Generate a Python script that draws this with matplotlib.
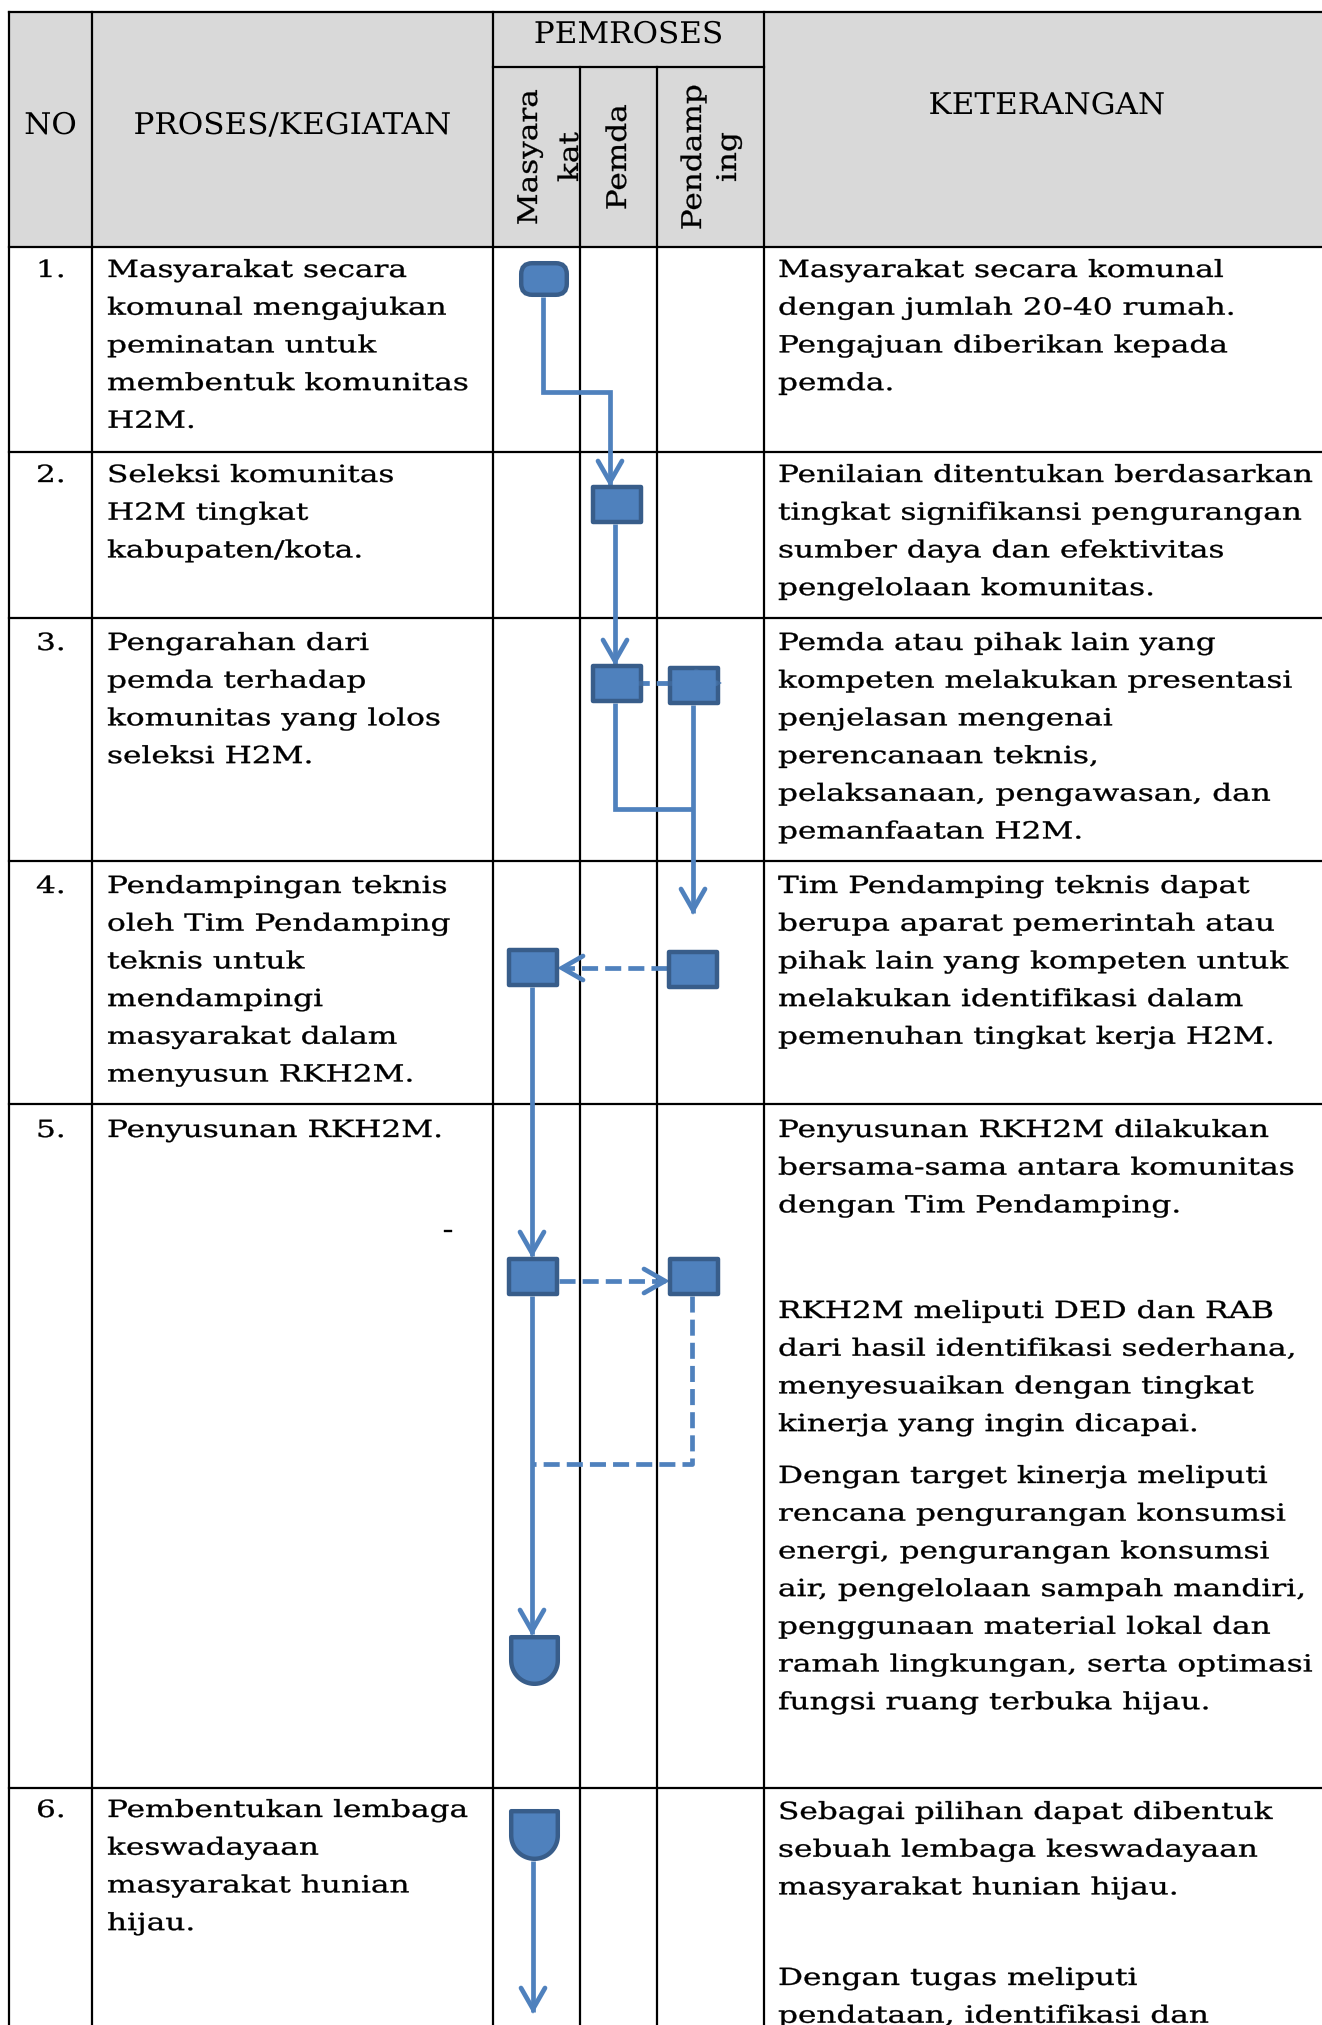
import numpy as np
import matplotlib.pyplot as plt
from matplotlib.patches import Rectangle, FancyBboxPatch, Polygon
from matplotlib.patheffects import AbstractPathEffect
from matplotlib.transforms import Affine2D

# ---- isi tabel ----
judul_kolom = ['NO', 'PROSES/KEGIATAN', 'PEMROSES', 'KETERANGAN']
pelaku = [['Masyara', 'kat'], ['Pemda'], ['Pendamp', 'ing']]
nomor = ['1.', '2.', '3.', '4.', '5.', '6.']
proses = [
    ['Masyarakat secara', 'komunal mengajukan', 'peminatan untuk',
     'membentuk komunitas', 'H2M.'],
    ['Seleksi komunitas', 'H2M tingkat', 'kabupaten/kota.'],
    ['Pengarahan dari', 'pemda terhadap', 'komunitas yang lolos', 'seleksi H2M.'],
    ['Pendampingan teknis', 'oleh Tim Pendamping', 'teknis untuk', 'mendampingi',
     'masyarakat dalam', 'menyusun RKH2M.'],
    ['Penyusunan RKH2M.'],
    ['Pembentukan lembaga', 'keswadayaan', 'masyarakat hunian', 'hijau.'],
]
keterangan = [
    [['Masyarakat secara komunal', 'dengan jumlah 20-40 rumah.',
      'Pengajuan diberikan kepada', 'pemda.']],
    [['Penilaian ditentukan berdasarkan', 'tingkat signifikansi pengurangan',
      'sumber daya dan efektivitas', 'pengelolaan komunitas.']],
    [['Pemda atau pihak lain yang', 'kompeten melakukan presentasi',
      'penjelasan mengenai', 'perencanaan teknis,',
      'pelaksanaan, pengawasan, dan', 'pemanfaatan H2M.']],
    [['Tim Pendamping teknis dapat', 'berupa aparat pemerintah atau',
      'pihak lain yang kompeten untuk', 'melakukan identifikasi dalam',
      'pemenuhan tingkat kerja H2M.']],
    [['Penyusunan RKH2M dilakukan', 'bersama-sama antara komunitas',
      'dengan Tim Pendamping.'],
     ['RKH2M meliputi DED dan RAB', 'dari hasil identifikasi sederhana,',
      'menyesuaikan dengan tingkat', 'kinerja yang ingin dicapai.'],
     ['Dengan target kinerja meliputi', 'rencana pengurangan konsumsi',
      'energi, pengurangan konsumsi', 'air, pengelolaan sampah mandiri,',
      'penggunaan material lokal dan', 'ramah lingkungan, serta optimasi',
      'fungsi ruang terbuka hijau.']],
    [['Sebagai pilihan dapat dibentuk', 'sebuah lembaga keswadayaan',
      'masyarakat hunian hijau.'],
     ['Dengan tugas meliputi', 'pendataan, identifikasi dan']],
]

# ---- tata letak (piksel, y ke bawah) ----
W, H = 1322, 2025
kolom_x = [9, 92, 493, 580, 657, 764]
y_atas, y_pemroses, y_header = 12, 67, 247
batas_baris = [452, 618, 861, 1104, 1788]
proses_y0 = [277, 482, 650, 893, 1137, 1817]
ket_y0 = [[277], [482], [650], [893], [1137, 1318, 1483], [1819, 1985]]
spasi = 37.7
x_no, x_proses, x_ket = 36, 107, 778

biru, tepi = '#4F81BD', '#385D8A'


class Lebar(AbstractPathEffect):
    """melebarkan huruf secara horizontal (mirip Bookman), bisa ditebalkan"""
    def __init__(self, sx, pivot='left', tebal=0.0):
        super().__init__()
        self.sx = sx
        self.pivot = pivot
        self.tebal = tebal

    def draw_path(self, renderer, gc, tpath, affine, rgbFace=None):
        ext = tpath.get_extents()
        cx = {'left': 0, 'center': (ext.x0 + ext.x1) / 2, 'right': ext.x1}[self.pivot]
        st = Affine2D().translate(-cx, 0).scale(self.sx, 1).translate(cx, 0)
        gc2 = renderer.new_gc()
        gc2.copy_properties(gc)
        if self.tebal > 0 and rgbFace is not None:
            gc2.set_linewidth(self.tebal)
            gc2.set_foreground(rgbFace)
            gc2.set_joinstyle('round')
        renderer.draw_path(gc2, tpath, st + affine, rgbFace)
        gc2.restore()


plt.rcParams['font.family'] = 'DejaVu Serif'
fig = plt.figure(figsize=(W / 100, H / 100), dpi=100)
ax = fig.add_axes([0, 0, 1, 1])
ax.set_xlim(0, W)
ax.set_ylim(H, 0)
ax.axis('off')


def tulis(x, y, s, size=17, sx=1.32, ha='left', tebal=0.25, **kw):
    ax.text(x, y, s, fontsize=size, ha=ha, va='baseline', color='black',
            path_effects=[Lebar(sx, ha, tebal)], zorder=5, **kw)


# header abu-abu + garis tabel
ax.add_patch(Rectangle((kolom_x[0], y_atas), W, y_header - y_atas,
                       facecolor='#D9D9D9', edgecolor='none', zorder=0))
garis = dict(color='black', lw=1.6, zorder=1, solid_capstyle='projecting')
for y in [y_atas, y_header] + batas_baris:
    ax.plot([kolom_x[0], W + 5], [y, y], **garis)
ax.plot([kolom_x[2], kolom_x[5]], [y_pemroses, y_pemroses], **garis)
for x in [kolom_x[0], kolom_x[1], kolom_x[2], kolom_x[5]]:
    ax.plot([x, x], [y_atas, H + 5], **garis)
for x in kolom_x[3:5]:
    ax.plot([x, x], [y_pemroses, H + 5], **garis)

# judul kolom
hsize, hsx = 21.5, 1.04
tulis((kolom_x[0] + kolom_x[1]) / 2, 134, judul_kolom[0], hsize, hsx, ha='center', tebal=0)
tulis((kolom_x[1] + kolom_x[2]) / 2, 134, judul_kolom[1], hsize, hsx, ha='center', tebal=0)
tulis((kolom_x[2] + kolom_x[5]) / 2, 43, judul_kolom[2], hsize, hsx, ha='center', tebal=0)
tulis(1047, 114, judul_kolom[3], hsize, hsx, ha='center', tebal=0)

# nama pelaku (teks tegak)
x_pelaku = [[537, 578], [626], [701, 736]]
for nama, xs in zip(pelaku, x_pelaku):
    for s, x in zip(nama, xs):
        tulis(x, 157, s, 19.5, 1.15, ha='center', tebal=0.2,
              rotation=90, rotation_mode='anchor')

# isi baris
for i in range(len(nomor)):
    tulis(x_no, proses_y0[i], nomor[i])
    for k, s in enumerate(proses[i]):
        tulis(x_proses, proses_y0[i] + k * spasi, s)
    for par, y0 in zip(keterangan[i], ket_y0[i]):
        for k, s in enumerate(par):
            tulis(x_ket, y0 + k * spasi, s)
tulis(448, 1237, '-', ha='center')

# ---- diagram alir ----
lw_alir = 3.4


def alir(xs, ys, putus=False, alpha=1.0, z=2):
    ls = (0, (3.4, 1.5)) if putus else '-'
    ax.plot(xs, ys, color=biru, lw=lw_alir, ls=ls, solid_joinstyle='miter',
            solid_capstyle='butt', dash_capstyle='butt', zorder=z, alpha=alpha)


def kepala(x, y, arah, alpha=1.0, z=2):
    dx, dy = {'bawah': (0, 1), 'kanan': (1, 0), 'kiri': (-1, 0)}[arah]
    x, y = x - 3 * dx, y - 3 * dy
    nx, ny = -dy, dx
    L, Wd = 21, 12
    ax.plot([x - L * dx + Wd * nx, x, x - L * dx - Wd * nx],
            [y - L * dy + Wd * ny, y, y - L * dy - Wd * ny],
            color=biru, lw=lw_alir, solid_joinstyle='miter',
            solid_capstyle='round', zorder=z, alpha=alpha)


def kotak(x0, y0, x1, y1):
    d = 2.2
    ax.add_patch(Rectangle((x0 + d, y0 + d), x1 - x0 - 2 * d, y1 - y0 - 2 * d,
                           facecolor=biru, edgecolor=tepi, lw=3.2,
                           joinstyle='round', zorder=3))


def terminal(x0, y0, x1, y1):
    d = 2.2
    ax.add_patch(FancyBboxPatch((x0 + d, y0 + d), x1 - x0 - 2 * d, y1 - y0 - 2 * d,
                                boxstyle='round,pad=0,rounding_size=11',
                                facecolor=biru, edgecolor=tepi, lw=3.2, zorder=3))


def perisai(x0, y0, x1, y1):
    d = 2.2
    x0, y0, x1, y1 = x0 + d, y0 + d, x1 - d, y1 - d
    r = (x1 - x0) / 2
    yc = y1 - r
    t = np.linspace(0, np.pi, 40)
    busur = np.column_stack([x0 + r + r * np.cos(t), yc + r * np.sin(t)])
    pts = np.vstack([[[x0, y0], [x1, y0]], busur, [[x0, y0]]])
    ax.add_patch(Polygon(pts, closed=True, facecolor=biru, edgecolor=tepi,
                         lw=3.2, joinstyle='round', zorder=3))


# baris 1 -> 2 -> 3
alir([543, 543, 610, 610], [297, 392, 392, 485])
kepala(610, 485, 'bawah')
alir([615, 615], [524, 664])
kepala(615, 664, 'bawah')
# baris 3
alir([610, 717], [683, 683], putus=True)
kepala(720, 683, 'kanan')
alir([610, 717], [683, 683], putus=True, alpha=0.35, z=4)
kepala(720, 683, 'kanan', alpha=0.35, z=4)
alir([615, 615, 693], [703, 809, 809])
alir([693, 693], [705, 913])
kepala(693, 913, 'bawah')
# baris 4
alir([667, 562], [968, 968], putus=True)
kepala(559, 968, 'kiri')
alir([532, 532], [987, 1256])
kepala(532, 1256, 'bawah')
# baris 5
alir([559, 665], [1281, 1281], putus=True)
kepala(668, 1281, 'kanan')
alir([692, 692, 533], [1296, 1464, 1464], putus=True)
alir([532, 532], [1296, 1634])
kepala(532, 1634, 'bawah')
# baris 6
alir([533, 533], [1861, 2012])
kepala(533, 2012, 'bawah')

terminal(519, 261, 569, 297)
kotak(591, 485, 643, 524)
kotak(591, 664, 643, 703)
kotak(668, 666, 720, 705)
kotak(667, 950, 719, 989)
kotak(507, 948, 559, 987)
kotak(507, 1257, 559, 1296)
kotak(668, 1257, 720, 1296)
perisai(509, 1635, 560, 1686)
perisai(509, 1809, 560, 1861)

fig.savefig('out.png', dpi=100, facecolor='white')
